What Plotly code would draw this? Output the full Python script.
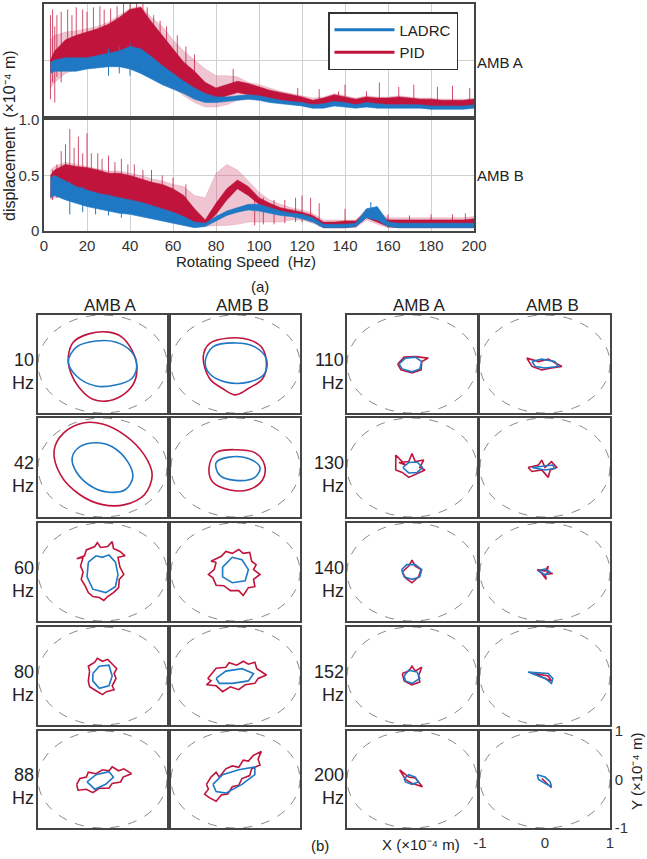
import plotly.graph_objects as go

W, H = 647, 859
BLUE = "#1f78c4"
RED = "#c0143c"
PALE = "rgba(205,90,120,0.35)"
FONT = "Arial, Liberation Sans, sans-serif"

# ---------------- (a) data : displacement envelopes vs rotating speed ----------------
freq = [3, 5, 10, 15, 20, 25, 30, 35, 40, 45, 50, 55, 60, 65, 70, 75, 80, 85, 90, 95, 100,
        105, 110, 115, 120, 125, 130, 135, 140, 145, 150, 155, 160, 165, 170, 175, 180, 185, 190, 195, 200]

A_pid_lo = [0.40, 0.42, 0.44, 0.45, 0.46, 0.48, 0.50, 0.55, 0.58, 0.56, 0.48, 0.40, 0.33, 0.25, 0.19, 0.13, 0.14, 0.18, 0.21, 0.19, 0.17,
            0.15, 0.13, 0.12, 0.10, 0.08, 0.09, 0.12, 0.10, 0.09, 0.10, 0.10, 0.10, 0.10, 0.10, 0.09, 0.09, 0.08, 0.08, 0.08, 0.09]
A_pid_hi = [0.50, 0.58, 0.68, 0.72, 0.75, 0.78, 0.82, 0.88, 0.95, 0.97, 0.84, 0.72, 0.60, 0.48, 0.40, 0.30, 0.25, 0.28, 0.31, 0.29, 0.26,
            0.23, 0.21, 0.19, 0.17, 0.14, 0.16, 0.19, 0.17, 0.15, 0.17, 0.16, 0.16, 0.17, 0.16, 0.15, 0.15, 0.14, 0.14, 0.14, 0.15]
A_pid_pale_lo = [0.25, 0.30, 0.38, 0.42, 0.44, 0.46, 0.48, 0.50, 0.52, 0.50, 0.42, 0.33, 0.26, 0.18, 0.12, 0.08, 0.08, 0.10, 0.14, 0.15, 0.15,
                 0.14, 0.12, 0.11, 0.09, 0.07, 0.08, 0.10, 0.09, 0.08, 0.09, 0.09, 0.09, 0.09, 0.09, 0.08, 0.08, 0.07, 0.07, 0.07, 0.08]
A_pid_pale_hi = [0.68, 0.72, 0.75, 0.76, 0.78, 0.80, 0.84, 0.90, 0.96, 0.98, 0.88, 0.80, 0.68, 0.58, 0.50, 0.42, 0.36, 0.36, 0.35, 0.30, 0.28,
                 0.25, 0.22, 0.20, 0.18, 0.16, 0.17, 0.20, 0.18, 0.16, 0.18, 0.17, 0.17, 0.18, 0.17, 0.16, 0.16, 0.15, 0.15, 0.15, 0.16]
A_ladrc_lo = [0.38, 0.40, 0.40, 0.40, 0.42, 0.43, 0.44, 0.44, 0.42, 0.38, 0.33, 0.28, 0.24, 0.20, 0.15, 0.12, 0.12, 0.13, 0.14, 0.15, 0.14,
              0.12, 0.11, 0.10, 0.09, 0.07, 0.07, 0.09, 0.08, 0.07, 0.08, 0.07, 0.07, 0.07, 0.07, 0.07, 0.06, 0.06, 0.06, 0.06, 0.07]
A_ladrc_hi = [0.48, 0.50, 0.52, 0.52, 0.52, 0.54, 0.56, 0.58, 0.62, 0.60, 0.53, 0.45, 0.38, 0.31, 0.25, 0.20, 0.17, 0.17, 0.18, 0.19, 0.18,
              0.16, 0.14, 0.13, 0.12, 0.10, 0.11, 0.13, 0.12, 0.10, 0.12, 0.11, 0.10, 0.10, 0.10, 0.10, 0.09, 0.09, 0.09, 0.09, 0.10]

B_pid_lo = [0.30, 0.35, 0.35, 0.33, 0.32, 0.30, 0.28, 0.26, 0.25, 0.22, 0.20, 0.17, 0.15, 0.12, 0.07, 0.05, 0.15, 0.28, 0.38, 0.32, 0.24,
            0.19, 0.16, 0.14, 0.12, 0.09, 0.03, 0.03, 0.03, 0.04, 0.12, 0.08, 0.04, 0.03, 0.03, 0.03, 0.03, 0.03, 0.03, 0.03, 0.03]
B_pid_hi = [0.50, 0.55, 0.60, 0.58, 0.57, 0.55, 0.52, 0.52, 0.50, 0.47, 0.44, 0.42, 0.38, 0.32, 0.20, 0.10, 0.25, 0.38, 0.46, 0.40, 0.30,
            0.25, 0.21, 0.19, 0.17, 0.14, 0.08, 0.08, 0.09, 0.09, 0.18, 0.16, 0.10, 0.10, 0.10, 0.10, 0.10, 0.10, 0.10, 0.10, 0.11]
B_pid_pale_lo = [0.28, 0.30, 0.32, 0.32, 0.30, 0.28, 0.26, 0.24, 0.22, 0.20, 0.18, 0.15, 0.12, 0.09, 0.05, 0.04, 0.05, 0.05, 0.06, 0.08, 0.08,
                 0.08, 0.08, 0.10, 0.10, 0.07, 0.03, 0.03, 0.03, 0.03, 0.10, 0.06, 0.03, 0.03, 0.03, 0.03, 0.03, 0.03, 0.03, 0.03, 0.03]
B_pid_pale_hi = [0.55, 0.58, 0.62, 0.60, 0.58, 0.56, 0.54, 0.54, 0.52, 0.50, 0.47, 0.45, 0.42, 0.40, 0.32, 0.30, 0.52, 0.60, 0.55, 0.45, 0.35,
                 0.28, 0.24, 0.21, 0.19, 0.16, 0.10, 0.10, 0.10, 0.10, 0.20, 0.18, 0.12, 0.12, 0.12, 0.12, 0.12, 0.12, 0.12, 0.12, 0.13]
B_ladrc_lo = [0.30, 0.32, 0.28, 0.25, 0.22, 0.20, 0.18, 0.16, 0.15, 0.13, 0.11, 0.09, 0.07, 0.05, 0.03, 0.04, 0.09, 0.14, 0.17, 0.19, 0.18,
              0.16, 0.14, 0.13, 0.11, 0.08, 0.03, 0.03, 0.03, 0.04, 0.12, 0.10, 0.04, 0.03, 0.03, 0.03, 0.03, 0.03, 0.03, 0.03, 0.03]
B_ladrc_hi = [0.48, 0.50, 0.45, 0.40, 0.37, 0.34, 0.32, 0.30, 0.28, 0.26, 0.23, 0.20, 0.17, 0.13, 0.08, 0.07, 0.13, 0.18, 0.21, 0.24, 0.24,
              0.21, 0.18, 0.16, 0.15, 0.12, 0.06, 0.06, 0.06, 0.07, 0.20, 0.22, 0.08, 0.07, 0.07, 0.07, 0.07, 0.07, 0.07, 0.07, 0.07]

# spikes: (frequency, bottom, top)
A_pid_spikes = [(3, 0.15, 0.90), (4, 0.30, 0.95), (5, 0.12, 0.80), (6, 0.35, 0.90), (8, 0.30, 0.93), (11, 0.42, 0.95), (13, 0.40, 0.90),
                (15, 0.44, 0.97), (18, 0.42, 0.95), (20, 0.45, 0.93), (23, 0.45, 0.97), (26, 0.48, 0.98), (28, 0.48, 0.95),
                (31, 0.50, 0.96), (34, 0.50, 0.98), (37, 0.52, 1.00), (40, 0.52, 1.00), (43, 0.50, 1.00), (46, 0.50, 1.00),
                (48, 0.45, 0.97), (51, 0.40, 0.90), (54, 0.35, 0.85), (57, 0.30, 0.80), (62, 0.25, 0.72), (66, 0.20, 0.62),
                (70, 0.15, 0.55), (88, 0.20, 0.42), (118, 0.12, 0.25), (128, 0.09, 0.24), (137, 0.10, 0.22), (140, 0.10, 0.28),
                (150, 0.10, 0.22), (156, 0.10, 0.30), (165, 0.10, 0.26), (172, 0.10, 0.28), (183, 0.09, 0.26), (190, 0.08, 0.27),
                (198, 0.08, 0.25)]
A_ladrc_spikes = [(30, 0.36, 0.60), (35, 0.38, 0.62), (40, 0.36, 0.65)]
B_pid_spikes = [(4, 0.28, 0.55), (6, 0.30, 0.60), (8, 0.30, 0.72), (10, 0.32, 0.78), (12, 0.35, 0.92), (14, 0.33, 0.75),
                (16, 0.33, 0.85), (18, 0.32, 0.70), (20, 0.32, 0.88), (22, 0.30, 0.70), (25, 0.30, 0.70), (27, 0.30, 0.65),
                (30, 0.28, 0.68), (33, 0.27, 0.62), (36, 0.26, 0.65), (39, 0.25, 0.60), (42, 0.24, 0.60), (46, 0.22, 0.55),
                (50, 0.20, 0.55), (55, 0.17, 0.50), (60, 0.15, 0.48), (66, 0.12, 0.42), (98, 0.05, 0.30), (102, 0.06, 0.30),
                (107, 0.06, 0.28), (112, 0.07, 0.28), (117, 0.08, 0.30), (120, 0.08, 0.32), (124, 0.08, 0.30), (128, 0.04, 0.25),
                (140, 0.03, 0.20), (160, 0.03, 0.15), (170, 0.03, 0.14), (180, 0.03, 0.15), (190, 0.03, 0.15), (196, 0.03, 0.16)]
B_ladrc_spikes = [(12, 0.15, 0.45), (18, 0.17, 0.40), (24, 0.15, 0.35), (30, 0.14, 0.33), (36, 0.12, 0.30), (152, 0.10, 0.26)]

x_ticks = [0, 20, 40, 60, 80, 100, 120, 140, 160, 180, 200]
y_ticks = [0, 0.5, 1.0]
y_ticktext = ["0", "0.5", "1.0"]

# ---------------- (b) data : rotor orbits (x, y) in 1e-4 m ----------------
speeds_left = ["10", "42", "60", "80", "88"]
speeds_right = ["110", "130", "140", "152", "200"]

o10A_pid = [(-0.45, 0.45), (-0.2, 0.62), (0.1, 0.65), (0.3, 0.55), (0.45, 0.3), (0.53, 0.0), (0.5, -0.35), (0.35, -0.6), (0.1, -0.75), (-0.15, -0.72), (-0.35, -0.5), (-0.5, -0.15), (-0.53, 0.15), (-0.45, 0.45)]
o10A_ladrc = [(-0.53, 0.05), (-0.4, 0.35), (-0.1, 0.47), (0.2, 0.45), (0.45, 0.25), (0.53, -0.05), (0.45, -0.3), (0.2, -0.43), (-0.1, -0.45), (-0.4, -0.25), (-0.53, 0.05)]
o10B_pid = [(-0.5, 0.15), (-0.4, 0.42), (-0.1, 0.53), (0.2, 0.5), (0.4, 0.35), (0.48, 0.0), (0.42, -0.3), (0.2, -0.5), (0.0, -0.63), (-0.2, -0.5), (-0.4, -0.3), (-0.5, 0.15)]
o10B_ladrc = [(-0.47, 0.05), (-0.35, 0.35), (0.0, 0.43), (0.3, 0.35), (0.48, 0.1), (0.45, -0.2), (0.2, -0.37), (-0.15, -0.37), (-0.4, -0.2), (-0.47, 0.05)]
o42A_pid = [(-0.75, 0.35), (-0.6, 0.7), (-0.3, 0.9), (0.0, 0.88), (0.35, 0.65), (0.65, 0.25), (0.77, -0.15), (0.65, -0.55), (0.35, -0.75), (0.0, -0.75), (-0.35, -0.55), (-0.65, -0.15), (-0.75, 0.35)]
o42A_ladrc = [(-0.47, 0.2), (-0.35, 0.42), (-0.1, 0.5), (0.15, 0.42), (0.4, 0.1), (0.47, -0.2), (0.35, -0.45), (0.1, -0.5), (-0.15, -0.4), (-0.4, -0.1), (-0.47, 0.2)]
o42B_pid = [(-0.41, 0.0), (-0.3, 0.3), (0.0, 0.36), (0.3, 0.3), (0.45, 0.05), (0.42, -0.25), (0.2, -0.45), (-0.1, -0.45), (-0.35, -0.3), (-0.41, 0.0)]
o42B_ladrc = [(-0.3, 0.1), (-0.1, 0.21), (0.2, 0.18), (0.38, 0.0), (0.3, -0.2), (0.0, -0.26), (-0.25, -0.15), (-0.3, 0.1)]
o60A_pid = [(-0.3, 0.3), (-0.4, 0.27), (-0.28, 0.33), (-0.25, 0.45), (-0.12, 0.52), (-0.08, 0.6), (-0.03, 0.5), (0.08, 0.52), (0.15, 0.62),
            (0.17, 0.48), (0.27, 0.42), (0.35, 0.33), (0.24, 0.3), (0.27, 0.1), (0.33, -0.05), (0.26, -0.15), (0.25, -0.32), (0.17, -0.42),
            (0.08, -0.5), (0.02, -0.58), (-0.05, -0.52), (-0.15, -0.5), (-0.22, -0.42), (-0.27, -0.28), (-0.33, -0.15), (-0.3, 0.0),
            (-0.34, 0.12), (-0.3, 0.3)]
o60A_ladrc = [(-0.22, 0.2), (-0.1, 0.33), (0.0, 0.3), (0.1, 0.35), (0.2, 0.2), (0.24, -0.05), (0.2, -0.3), (0.05, -0.42), (-0.15, -0.35), (-0.24, -0.1), (-0.22, 0.2)]
o60B_pid = [(-0.3, 0.2), (-0.38, 0.22), (-0.22, 0.32), (-0.15, 0.42), (-0.05, 0.38), (0.05, 0.46), (0.12, 0.38), (0.22, 0.4), (0.25, 0.22),
            (0.32, 0.15), (0.28, 0.05), (0.38, -0.05), (0.28, -0.15), (0.3, -0.3), (0.2, -0.32), (0.12, -0.48), (0.05, -0.38),
            (-0.08, -0.38), (-0.18, -0.28), (-0.3, -0.27), (-0.35, -0.12), (-0.42, -0.05), (-0.33, 0.05), (-0.3, 0.2)]
o60B_ladrc = [(-0.2, 0.1), (-0.05, 0.3), (0.1, 0.25), (0.2, 0.05), (0.15, -0.18), (-0.05, -0.22), (-0.2, -0.1), (-0.2, 0.1)]
o80A_pid = [(-0.2, 0.1), (-0.22, 0.2), (-0.12, 0.28), (-0.08, 0.36), (0.0, 0.3), (0.08, 0.34), (0.17, 0.22), (0.22, 0.15), (0.18, 0.05),
            (0.21, -0.05), (0.15, -0.2), (0.18, -0.28), (0.06, -0.32), (0.0, -0.38), (-0.1, -0.3), (-0.2, -0.22), (-0.22, -0.1), (-0.2, 0.1)]
o80A_ladrc = [(-0.15, 0.05), (-0.05, 0.2), (0.1, 0.22), (0.15, 0.0), (0.1, -0.2), (-0.05, -0.25), (-0.15, -0.1), (-0.15, 0.05)]
o80B_pid = [(-0.43, -0.05), (-0.35, 0.08), (-0.3, 0.16), (-0.15, 0.18), (-0.1, 0.27), (0.02, 0.22), (0.12, 0.3), (0.2, 0.24), (0.3, 0.28),
            (0.33, 0.15), (0.48, 0.02), (0.35, -0.05), (0.3, -0.15), (0.15, -0.18), (0.05, -0.28), (-0.08, -0.22), (-0.2, -0.32),
            (-0.3, -0.2), (-0.45, -0.18), (-0.38, -0.1), (-0.43, -0.05)]
o80B_ladrc = [(-0.3, -0.05), (-0.15, 0.1), (0.1, 0.15), (0.28, 0.05), (0.2, -0.1), (-0.05, -0.15), (-0.25, -0.15), (-0.3, -0.05)]
o88A_pid = [(-0.4, -0.1), (-0.35, 0.02), (-0.25, 0.05), (-0.22, 0.15), (-0.1, 0.12), (0.0, 0.2), (0.1, 0.18), (0.15, 0.26), (0.25, 0.18),
            (0.33, 0.22), (0.45, 0.12), (0.32, 0.05), (0.28, -0.05), (0.15, -0.08), (0.1, -0.18), (-0.05, -0.18), (-0.15, -0.27),
            (-0.25, -0.2), (-0.38, -0.22), (-0.4, -0.1)]
o88A_ladrc = [(-0.24, -0.05), (-0.1, 0.1), (0.1, 0.16), (0.17, 0.05), (0.05, -0.1), (-0.12, -0.2), (-0.24, -0.05)]
o88B_pid = [(-0.45, -0.1), (-0.38, 0.05), (-0.3, 0.15), (-0.25, 0.05), (-0.15, 0.22), (-0.05, 0.28), (0.05, 0.25), (0.12, 0.4), (0.2, 0.38),
            (0.28, 0.5), (0.4, 0.58), (0.35, 0.42), (0.38, 0.3), (0.25, 0.22), (0.22, 0.08), (0.1, 0.02), (0.05, -0.12), (-0.05, -0.15),
            (-0.12, -0.3), (-0.22, -0.32), (-0.3, -0.45), (-0.4, -0.38), (-0.48, -0.3), (-0.42, -0.2), (-0.45, -0.1)]
o88B_ladrc = [(-0.35, -0.1), (-0.2, 0.1), (0.05, 0.2), (0.3, 0.26), (0.3, 0.1), (0.1, -0.1), (-0.15, -0.28), (-0.3, -0.25), (-0.35, -0.1)]

o110A_pid = [(-0.22, 0.0), (-0.12, 0.14), (0.05, 0.15), (0.25, 0.12), (0.15, 0.05), (0.14, -0.12), (0.0, -0.18), (-0.17, -0.12), (-0.22, 0.0)]
o110A_ladrc = [(-0.2, 0.0), (-0.1, 0.12), (0.05, 0.14), (0.15, 0.05), (0.12, -0.1), (0.0, -0.16), (-0.15, -0.1), (-0.2, 0.0)]
o110B_pid = [(-0.28, 0.12), (-0.1, 0.05), (0.05, 0.1), (0.26, -0.05), (0.1, -0.08), (-0.05, -0.12), (-0.2, -0.05), (-0.28, 0.12)]
o110B_ladrc = [(-0.2, 0.05), (-0.05, 0.1), (0.15, 0.05), (0.2, -0.05), (0.0, -0.08), (-0.15, -0.05), (-0.2, 0.05)]
o130A_pid = [(-0.25, 0.25), (-0.1, 0.05), (-0.2, 0.1), (-0.05, 0.12), (0.0, 0.28), (0.05, 0.12), (0.18, 0.15), (0.12, 0.0), (0.2, -0.05), (0.08, -0.12), (-0.05, -0.2), (-0.15, -0.1), (-0.25, -0.05), (-0.25, 0.25)]
o130A_ladrc = [(-0.14, 0.0), (-0.05, 0.1), (0.08, 0.11), (0.16, 0.0), (0.08, -0.1), (-0.05, -0.11), (-0.14, 0.0)]
o130B_pid = [(-0.26, 0.0), (-0.1, 0.05), (-0.05, 0.15), (0.0, 0.0), (0.1, 0.12), (0.18, 0.0), (0.08, -0.05), (0.05, -0.2), (-0.05, -0.05), (-0.2, -0.08), (-0.26, 0.0)]
o130B_ladrc = [(-0.2, 0.0), (-0.05, 0.03), (0.12, 0.05), (0.15, -0.02), (0.0, -0.05), (-0.2, 0.0)]
o140A_pid = [(-0.15, 0.0), (-0.05, 0.12), (0.0, 0.24), (0.05, 0.12), (0.14, 0.05), (0.1, -0.1), (0.0, -0.22), (-0.1, -0.12), (-0.15, 0.0)]
o140A_ladrc = [(-0.16, 0.05), (-0.08, 0.15), (0.05, 0.15), (0.15, 0.05), (0.12, -0.1), (0.0, -0.15), (-0.12, -0.1), (-0.16, 0.05)]
o140B_pid = [(-0.12, 0.05), (0.0, 0.02), (0.05, 0.12), (0.03, 0.0), (0.12, -0.03), (0.0, -0.05), (0.02, -0.15), (-0.05, -0.03), (-0.12, 0.05)]
o140B_ladrc = [(-0.1, 0.03), (0.0, 0.06), (0.08, 0.0), (0.0, -0.06), (-0.1, 0.03)]
o152A_pid = [(-0.15, 0.05), (-0.05, 0.1), (0.0, 0.2), (0.05, 0.1), (0.15, 0.18), (0.1, 0.0), (0.12, -0.12), (0.0, -0.18), (-0.12, -0.1), (-0.15, 0.05)]
o152A_ladrc = [(-0.12, 0.0), (-0.05, 0.12), (0.08, 0.08), (0.12, -0.05), (0.0, -0.15), (-0.1, -0.1), (-0.12, 0.0)]
o152B_pid = [(-0.2, 0.06), (0.05, 0.0), (0.1, -0.1), (-0.2, 0.06)]
o152B_ladrc = [(-0.26, 0.08), (0.05, 0.05), (0.12, -0.05), (0.1, -0.15), (0.0, -0.05), (-0.26, 0.08)]
o200A_pid = [(-0.19, 0.2), (-0.05, 0.05), (0.05, 0.03), (0.16, -0.15), (0.0, -0.08), (-0.1, 0.0), (-0.19, 0.2)]
o200A_ladrc = [(-0.12, 0.02), (-0.05, 0.1), (0.05, 0.05), (0.1, -0.05), (0.0, -0.1), (-0.1, -0.05), (-0.12, 0.02)]
o200B_pid = [(-0.05, 0.02), (0.05, -0.1), (0.1, -0.17), (0.0, -0.05), (-0.05, 0.02)]
o200B_ladrc = [(-0.12, 0.1), (0.0, 0.05), (0.08, -0.05), (0.1, -0.15), (0.0, -0.08), (-0.1, 0.0), (-0.12, 0.1)]

orbit_table = {
    ("10", "A"): (o10A_pid, o10A_ladrc), ("10", "B"): (o10B_pid, o10B_ladrc),
    ("42", "A"): (o42A_pid, o42A_ladrc), ("42", "B"): (o42B_pid, o42B_ladrc),
    ("60", "A"): (o60A_pid, o60A_ladrc), ("60", "B"): (o60B_pid, o60B_ladrc),
    ("80", "A"): (o80A_pid, o80A_ladrc), ("80", "B"): (o80B_pid, o80B_ladrc),
    ("88", "A"): (o88A_pid, o88A_ladrc), ("88", "B"): (o88B_pid, o88B_ladrc),
    ("110", "A"): (o110A_pid, o110A_ladrc), ("110", "B"): (o110B_pid, o110B_ladrc),
    ("130", "A"): (o130A_pid, o130A_ladrc), ("130", "B"): (o130B_pid, o130B_ladrc),
    ("140", "A"): (o140A_pid, o140A_ladrc), ("140", "B"): (o140B_pid, o140B_ladrc),
    ("152", "A"): (o152A_pid, o152A_ladrc), ("152", "B"): (o152B_pid, o152B_ladrc),
    ("200", "A"): (o200A_pid, o200A_ladrc), ("200", "B"): (o200B_pid, o200B_ladrc),
}
smooth_speeds = {"10", "42"}

# ---------------- layout helpers ----------------
def xd(p0, p1):
    return [p0 / W, p1 / W]

def yd(p0, p1):
    return [1 - p1 / H, 1 - p0 / H]

fig = go.Figure()
layout = dict(width=W, height=H, margin=dict(l=0, r=0, t=0, b=0, autoexpand=False), paper_bgcolor="white",
              plot_bgcolor="white", font=dict(family=FONT, size=15, color="#222"),
              shapes=[], annotations=[])

# ---- top two panels ----
top_panels = [
    ("x", "y", (4, 116), A_pid_pale_lo, A_pid_pale_hi, A_pid_lo, A_pid_hi, A_ladrc_lo, A_ladrc_hi, A_pid_spikes, A_ladrc_spikes, False),
    ("x2", "y2", (120, 231), B_pid_pale_lo, B_pid_pale_hi, B_pid_lo, B_pid_hi, B_ladrc_lo, B_ladrc_hi, B_pid_spikes, B_ladrc_spikes, True),
]

def band(xa, ya, lo, hi, color):
    fig.add_trace(go.Scatter(x=freq + freq[::-1], y=hi + lo[::-1], fill="toself", fillcolor=color,
                             mode="lines", line=dict(width=0.6, color=color), xaxis=xa, yaxis=ya,
                             showlegend=False, hoverinfo="skip"))

def spikes(xa, ya, sp, color, width):
    xs, ys = [], []
    for f, b, t in sp:
        xs += [f, f, None]
        ys += [b, t, None]
    fig.add_trace(go.Scatter(x=xs, y=ys, mode="lines", line=dict(width=width, color=color),
                             xaxis=xa, yaxis=ya, showlegend=False, hoverinfo="skip"))

for i, (xa, ya, (py0, py1), plo, phi, dlo, dhi, llo, lhi, psp, lsp, show_x) in enumerate(top_panels):
    band(xa, ya, plo, phi, PALE)
    spikes(xa, ya, psp, "rgba(192,20,60,0.75)", 1.0)
    band(xa, ya, dlo, dhi, RED)
    band(xa, ya, llo, lhi, BLUE)
    spikes(xa, ya, lsp, BLUE, 1.0)
    key = "" if i == 0 else "2"
    layout["xaxis" + key] = dict(domain=xd(44, 474), range=[0, 200], anchor=ya, showline=True, mirror=True,
                                 linecolor="#444", linewidth=1.5, showgrid=True, gridcolor="#cfcfcf",
                                 tickvals=x_ticks, showticklabels=show_x, ticks="", zeroline=False,
                                 automargin=False, tickfont=dict(size=15, color="#333"))
    layout["yaxis" + key] = dict(domain=yd(py0, py1), range=[0, 1.0], anchor=xa, showline=True, mirror=True,
                                 linecolor="#444", linewidth=1.5, showgrid=True, gridcolor="#cfcfcf",
                                 tickvals=y_ticks, ticktext=y_ticktext, showticklabels=show_x, ticks="",
                                 zeroline=False, automargin=False, tickfont=dict(size=15, color="#333"))

# legend entries
fig.add_trace(go.Scatter(x=[None], y=[None], mode="lines", line=dict(color=BLUE, width=3), name="LADRC"))
fig.add_trace(go.Scatter(x=[None], y=[None], mode="lines", line=dict(color=RED, width=3), name="PID"))
layout["legend"] = dict(x=328 / W, y=1 - 12 / H, xanchor="left", yanchor="top", bgcolor="white",
                        bordercolor="#333", borderwidth=1.5, font=dict(size=15, color="#222"),
                        itemwidth=60, tracegroupgap=0)

ann = layout["annotations"]

def text(s, px, py, size=15, angle=0, xanchor="center"):
    ann.append(dict(text=s, x=px / W, y=1 - py / H, xref="paper", yref="paper", xanchor=xanchor,
                    yanchor="middle", textangle=angle, showarrow=False, font=dict(size=size)))

text("AMB A", 475, 62, xanchor="left")
text("AMB B", 475, 175, xanchor="left")
text("displacement  (×10⁻⁴ m)", 10, 136, size=16, angle=-90)
text("Rotating Speed  (Hz)", 246, 261)
text("(a)", 260, 286)

# ---- orbit grid ----
col_px = {("L", "A"): (38, 167), ("L", "B"): (171, 300), ("R", "A"): (347, 477), ("R", "B"): (480, 610)}
row_px = [(315, 413), (418, 517), (523, 621), (627, 725), (731, 828)]

ax_n = 3
for group, speeds in (("L", speeds_left), ("R", speeds_right)):
    for r, sp in enumerate(speeds):
        for amb in ("A", "B"):
            xa, ya = "x%d" % ax_n, "y%d" % ax_n
            pid_pts, lad_pts = orbit_table[(sp, amb)]
            shape = "spline" if sp in smooth_speeds else "linear"
            fig.add_trace(go.Scatter(x=[p[0] for p in pid_pts], y=[p[1] for p in pid_pts], mode="lines",
                                     line=dict(color=RED, width=1.6, shape=shape), xaxis=xa, yaxis=ya,
                                     showlegend=False, hoverinfo="skip"))
            fig.add_trace(go.Scatter(x=[p[0] for p in lad_pts], y=[p[1] for p in lad_pts], mode="lines",
                                     line=dict(color=BLUE, width=1.6, shape=shape), xaxis=xa, yaxis=ya,
                                     showlegend=False, hoverinfo="skip"))
            last = (group == "R" and r == 4 and amb == "B")
            cx0, cx1 = col_px[(group, amb)]
            ry0, ry1 = row_px[r]
            layout["xaxis%d" % ax_n] = dict(domain=xd(cx0, cx1), range=[-1, 1], anchor=ya, showline=True,
                                            mirror=True, linecolor="#444", linewidth=1.5, showgrid=False,
                                            zeroline=False, ticks="", showticklabels=last, automargin=False,
                                            tickvals=[-1, 0, 1], ticktext=["-1", "0", "1"],
                                            tickfont=dict(size=15, color="#333"))
            layout["yaxis%d" % ax_n] = dict(domain=yd(ry0, ry1), range=[-1, 1], anchor=xa, showline=True,
                                            mirror=True, linecolor="#444", linewidth=1.5, showgrid=False,
                                            zeroline=False, ticks="", showticklabels=last, automargin=False,
                                            side="right" if last else "left",
                                            tickvals=[-1, 0, 1], ticktext=["-1", "0", "1"],
                                            tickfont=dict(size=15, color="#333"))
            layout["shapes"].append(dict(type="circle", xref=xa, yref=ya, x0=-1, x1=1, y0=-1, y1=1,
                                         line=dict(color="#888", width=1, dash="dash"), layer="below"))
            ax_n += 1
        # row label
        ry0, ry1 = row_px[r]
        xr = 36 if group == "L" else 346
        ann.append(dict(text=sp + "<br>Hz", x=xr / W, y=1 - ((ry0 + ry1) / 2 + 7) / H, xref="paper",
                        yref="paper", xanchor="right", yanchor="middle", align="right", showarrow=False,
                        font=dict(size=18)))

for xc, lab in ((110, "AMB A"), (242, "AMB B"), (419, "AMB A"), (552, "AMB B")):
    text(lab, xc, 305, size=17)

text("(b)", 320, 845)
text("X (×10⁻⁴ m)", 421, 844)
text("Y (×10⁻⁴ m)", 636, 772, angle=-90)

fig.update_layout(**layout)
fig.write_html("out.html", config={"displayModeBar": False},
               post_script="document.body.style.margin='0px';document.body.style.overflow='hidden';")
